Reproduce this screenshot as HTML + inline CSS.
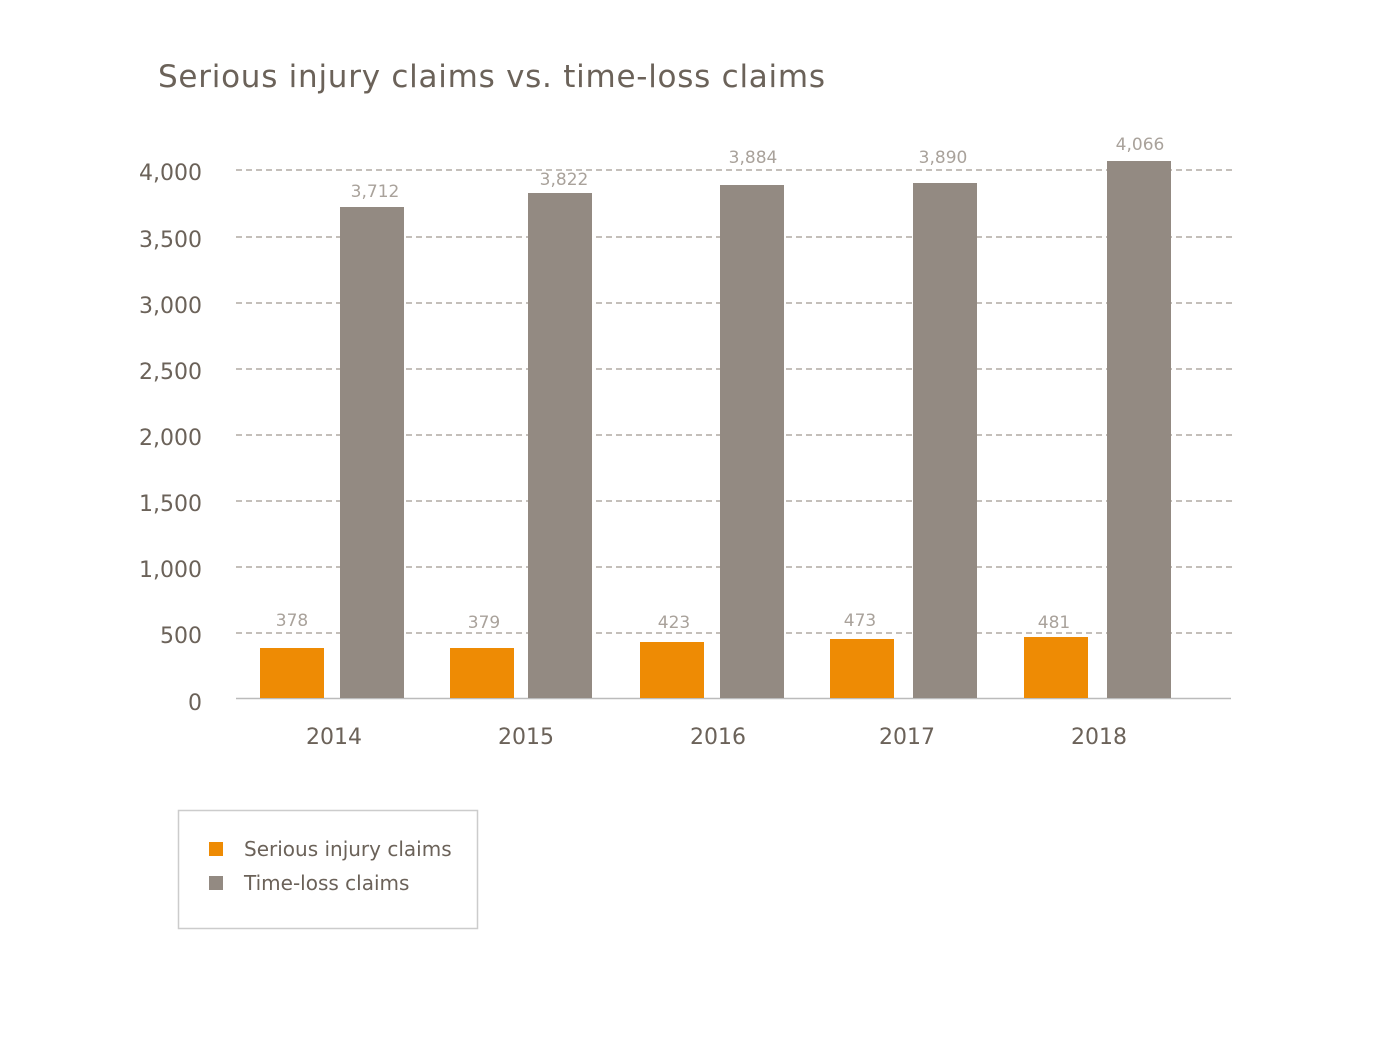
<!DOCTYPE html>
<html><head><style>body{margin:0;background:#fff}svg{display:block}</style></head>
<body>
<svg width="1380" height="1038" xmlns="http://www.w3.org/2000/svg" font-family="DejaVu Sans, Liberation Sans, sans-serif">
<text x="158" y="87" font-size="31" fill="#6b6259" textLength="667" lengthAdjust="spacing">Serious injury claims vs. time-loss claims</text>
<g stroke="#b0aaa4" stroke-width="1.5" stroke-dasharray="6,4">
<line x1="236" x2="1233" y1="170" y2="170"/><line x1="236" x2="1233" y1="237" y2="237"/>
<line x1="236" x2="1233" y1="303" y2="303"/><line x1="236" x2="1233" y1="369" y2="369"/>
<line x1="236" x2="1233" y1="435" y2="435"/><line x1="236" x2="1233" y1="501" y2="501"/>
<line x1="236" x2="1233" y1="567" y2="567"/><line x1="236" x2="1233" y1="633" y2="633"/>
</g>
<line x1="236" x2="1231" y1="698.5" y2="698.5" stroke="#bbb" stroke-width="1.5"/>
<g font-size="22" fill="#6b6259" text-anchor="end">
<text x="202" y="180">4,000</text><text x="202" y="247">3,500</text><text x="202" y="313">3,000</text>
<text x="202" y="379">2,500</text><text x="202" y="445">2,000</text><text x="202" y="511">1,500</text>
<text x="202" y="577">1,000</text><text x="202" y="643">500</text><text x="202" y="710">0</text>
</g>
<g fill="#ee8b04">
<rect x="260" y="648" width="64" height="50"/><rect x="450" y="648" width="64" height="50"/>
<rect x="640" y="642" width="64" height="56"/><rect x="830" y="639" width="64" height="59"/>
<rect x="1024" y="637" width="64" height="61"/>
</g>
<g fill="#938a82">
<rect x="340" y="207" width="64" height="491"/><rect x="528" y="193" width="64" height="505"/>
<rect x="720" y="185" width="64" height="513"/><rect x="913" y="183" width="64" height="515"/>
<rect x="1107" y="161" width="64" height="537"/>
</g>
<g font-size="17" fill="#a9a29b" text-anchor="middle">
<text x="292" y="626">378</text><text x="484" y="628">379</text><text x="674" y="628">423</text>
<text x="860" y="626">473</text><text x="1054" y="628">481</text>
<text x="375" y="197">3,712</text><text x="564" y="185">3,822</text><text x="753" y="163">3,884</text>
<text x="943" y="163">3,890</text><text x="1140" y="150">4,066</text>
</g>
<g font-size="22" fill="#6b6259" text-anchor="middle">
<text x="334" y="744">2014</text><text x="526" y="744">2015</text><text x="718" y="744">2016</text>
<text x="907" y="744">2017</text><text x="1099" y="744">2018</text>
</g>
<rect x="178.5" y="810.5" width="299" height="118" fill="none" stroke="#ccc" stroke-width="1.5"/>
<rect x="209" y="842" width="14" height="14" fill="#ee8b04"/>
<rect x="209" y="876" width="14" height="14" fill="#938a82"/>
<g font-size="20" fill="#6b6259">
<text x="244" y="856">Serious injury claims</text>
<text x="244" y="890">Time-loss claims</text>
</g>
</svg>
</body></html>
